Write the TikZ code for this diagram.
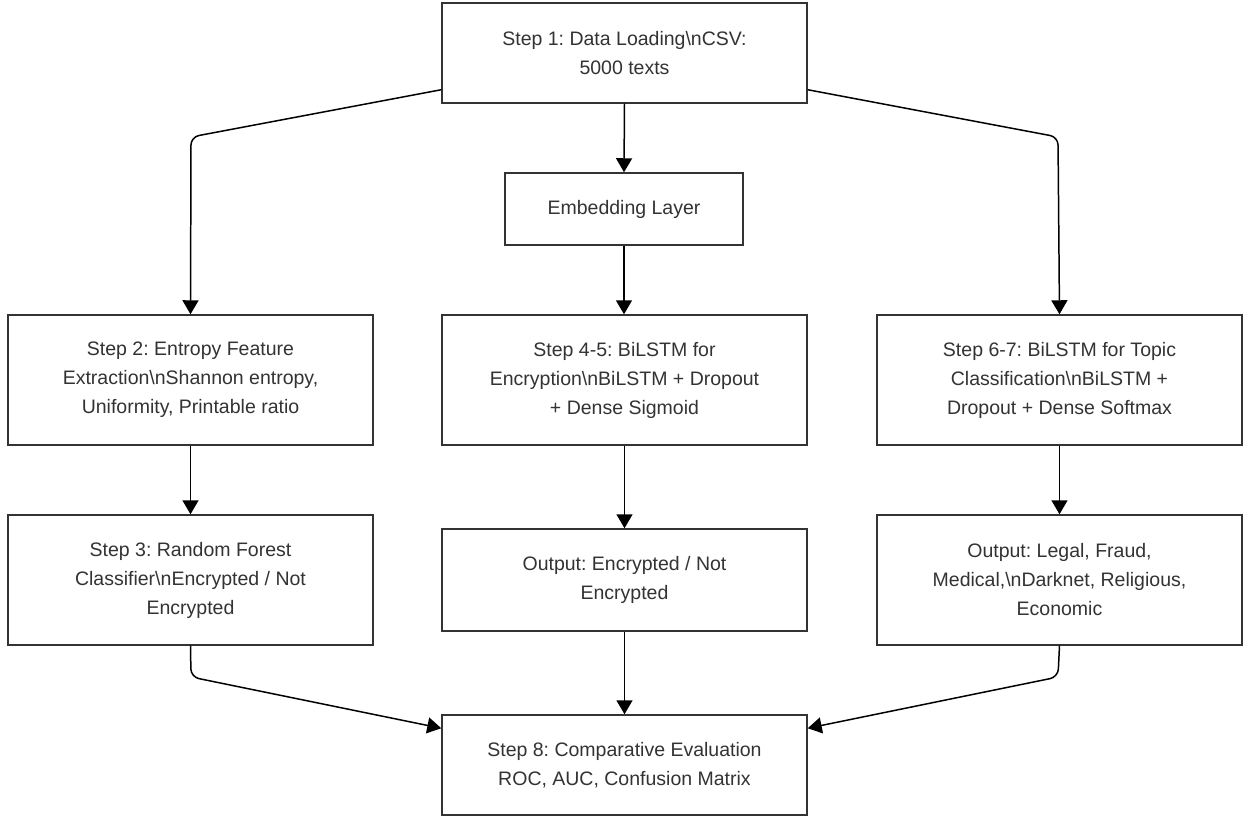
\documentclass[tikz,border=0pt]{standalone}
\usepackage{fontspec}
\setmainfont{Liberation Sans}
\usepackage{xcolor}
\usetikzlibrary{arrows.meta}

\definecolor{boxgray}{HTML}{333333}
\frenchspacing

\begin{document}
\begin{tikzpicture}[x=0.02cm, y=-0.02cm,
  stepbox/.style={draw=boxgray, line width=0.85pt, fill=white, text=boxgray,
    align=center, inner sep=0pt, minimum width=7.3cm,
    font=\fontsize{11.1pt}{16.5pt}\selectfont},
  link/.style={draw=black, line width=0.85pt,
    -{Triangle[width=0.32cm, length=0.28cm]}},
  elbow/.style={rounded corners=0.16cm}]
  % Canvas
  \useasboundingbox (0,0) rectangle (1259,820);

  % Top of the pipeline
  \node[stepbox, minimum height=2cm] (load) at (624.5,53)
    {Step 1: Data Loading\textbackslash nCSV:\\5000 texts};
  \node[stepbox, minimum width=4.76cm, minimum height=1.44cm] (embed) at (624,209)
    {Embedding Layer};

  % Three branches
  \node[stepbox, minimum height=2.6cm] (entropy) at (190.5,380)
    {Step 2: Entropy Feature\\Extraction\textbackslash nShannon entropy,\\Uniformity, Printable ratio};
  \node[stepbox, minimum height=2.6cm] (bilstm) at (624.5,380)
    {Step 4-5: BiLSTM for\\Encryption\textbackslash nBiLSTM + Dropout\\+ Dense Sigmoid};
  \node[stepbox, minimum height=2.6cm] (topic) at (1059.5,380)
    {Step 6-7: BiLSTM for Topic\\Classification\textbackslash nBiLSTM +\\Dropout + Dense Softmax};

  % Outputs
  \node[stepbox, minimum height=2.6cm] (forest) at (190.5,580)
    {Step 3: Random Forest\\Classifier\textbackslash nEncrypted / Not\\Encrypted};
  \node[stepbox, minimum height=2.04cm] (encout) at (624.5,580)
    {Output: Encrypted / Not\\Encrypted};
  \node[stepbox, minimum height=2.6cm] (topout) at (1059.5,580)
    {Output: Legal, Fraud,\\Medical,\textbackslash nDarknet, Religious,\\Economic};

  % Evaluation
  \node[stepbox, minimum height=2cm] (eval) at (624.5,765)
    {Step 8: Comparative Evaluation\\ROC, AUC, Confusion Matrix};

  % Bend points
  \coordinate (lbend) at (191,137);
  \coordinate (rbend) at (1058,137);
  \coordinate (lfoot) at (191,677);
  \coordinate (rfoot) at (1058,677);

  % Connectors
  \draw[link] (load.south) -- (embed.north);
  \draw[link] (embed.south) -- (embed.south |- bilstm.north);
  \draw[link, elbow] ([yshift=0.28cm]load.south west) -- (lbend) -- (entropy.north);
  \draw[link, elbow] ([yshift=0.28cm]load.south east) -- (rbend) -- (topic.north);
  \draw[link] (entropy.south) -- (forest.north);
  \draw[link] (bilstm.south) -- (encout.north);
  \draw[link] (topic.south) -- (topout.north);
  \draw[link, elbow] (forest.south) -- (lfoot) -- ([yshift=-0.28cm]eval.north west);
  \draw[link, elbow] (topout.south) -- (rfoot) -- ([yshift=-0.28cm]eval.north east);
  \draw[link] (encout.south) -- (eval.north);
\end{tikzpicture}
\end{document}
